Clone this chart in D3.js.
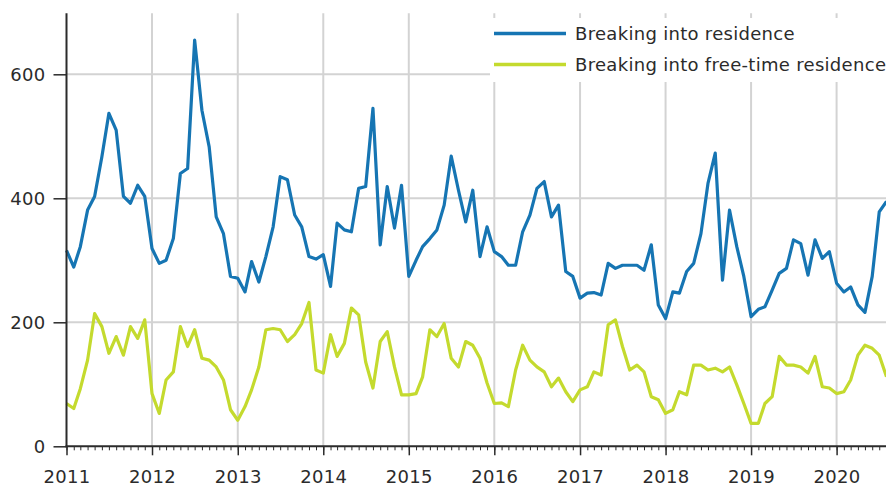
<!DOCTYPE html>
<html><head><meta charset="utf-8">
<script src="https://cdn.jsdelivr.net/npm/d3@7"></script>
<style>
html,body{margin:0;padding:0;background:#fff;}
svg{display:block;font-family:"DejaVu Sans",Verdana,sans-serif;}
</style></head>
<body><svg id="c" width="886" height="488"></svg>
<script>
const startMonth = "2011-01";
const seriesNames = ["Breaking into residence", "Breaking into free-time residence"];
const residence = [316,289,322,381,403,467,537,510,403,392,421,403,
319,295,300,335,440,448,655,542,483,370,343,274,
271,249,298,265,306,354,435,430,373,354,306,302,
309,258,360,349,346,416,419,545,325,419,352,421,
274,300,322,335,349,389,468,413,362,413,306,354,
314,306,292,292,346,373,416,427,370,389,282,274,
239,247,248,244,295,287,292,292,292,284,325,228,
206,249,247,282,295,343,424,473,268,381,322,274,
209,221,225,252,279,287,333,327,276,333,303,314,
263,249,257,228,216,274,378,395];
const freeTime = [69,61,93,139,214,193,150,177,147,193,174,204,
85,53,107,120,193,161,188,142,139,128,107,59,
42,64,91,128,188,190,188,169,180,198,232,123,
118,180,145,166,223,212,136,94,169,185,128,83,
83,85,112,188,177,198,142,128,169,163,142,102,
69,70,64,123,163,139,128,120,96,110,88,72,
91,96,120,115,196,204,161,123,131,120,80,75,
53,59,88,83,131,131,123,126,120,128,99,69,
37,37,69,80,145,131,131,128,118,145,96,94,
85,88,107,147,163,158,147,112];
const yTicks = [0,200,400,600];
const colors = ["#1675b3","#c4da2e"];

const parse = d3.timeParse("%Y-%m");
const t0 = parse(startMonth);
const months = residence.map((_, i) => d3.timeMonth.offset(t0, i));

const svg = d3.select("#c");
const x = d3.scaleTime().domain([t0, months[months.length-1]]).range([66.5, 886.5]);
const y = d3.scaleLinear().domain([0, 700]).range([446.3, 12.3]);
const textCol = "#2b2b2b";
const gridCol = "#d3d3d3";

// grid
const grid = svg.append("g");
const years = d3.timeYear.range(d3.timeYear.offset(t0,1), months[months.length-1]);
grid.selectAll("line.v").data(years).join("line")
  .attr("x1", d => x(d)).attr("x2", d => x(d))
  .attr("y1", y(700)+1).attr("y2", y(0))
  .attr("stroke", gridCol).attr("stroke-width", 2);
grid.selectAll("line.h").data(yTicks.filter(d => d > 0)).join("line")
  .attr("x1", x(t0)).attr("x2", 886)
  .attr("y1", d => y(d)).attr("y2", d => y(d))
  .attr("stroke", gridCol).attr("stroke-width", 2);

// lines
const line = d3.line().x((d, i) => x(months[i])).y(d => y(d));
[residence, freeTime].forEach((s, k) => {
  svg.append("path").datum(s).attr("d", line)
    .attr("fill", "none").attr("stroke", colors[k])
    .attr("stroke-width", 3.2).attr("stroke-linejoin", "round");
});

// y axis
const ya = svg.append("g").attr("transform", `translate(${x(t0)},0)`)
  .call(d3.axisLeft(y).tickValues(yTicks).tickSize(13).tickPadding(8));
ya.select(".domain").remove();
ya.selectAll("line").attr("stroke", textCol).attr("stroke-width", 1.5);
ya.selectAll("text").attr("font-size", 18).attr("fill", textCol)
  .attr("font-family", "DejaVu Sans").attr("letter-spacing", "0.3px");
svg.append("line").attr("x1", x(t0)).attr("x2", x(t0))
  .attr("y1", y(700)+1).attr("y2", y(0)+1)
  .attr("stroke", textCol).attr("stroke-width", 2);

// x axis minor
const xm = svg.append("g").attr("transform", `translate(0,${y(0)})`)
  .call(d3.axisBottom(x).ticks(d3.timeMonth.every(1)).tickSize(4).tickFormat(""));
xm.select(".domain").remove();
xm.selectAll("line").attr("stroke", textCol).attr("stroke-width", 1);
// x axis major
const xa = svg.append("g").attr("transform", `translate(0,${y(0)})`)
  .call(d3.axisBottom(x).ticks(d3.timeYear.every(1)).tickSize(9).tickPadding(15)
    .tickFormat(d3.timeFormat("%Y")));
xa.select(".domain").remove();
xa.selectAll("line").attr("stroke", textCol).attr("stroke-width", 1.5);
xa.selectAll("text").attr("font-size", 18).attr("fill", textCol)
  .attr("font-family", "DejaVu Sans").attr("letter-spacing", "0.3px");
svg.append("line").attr("x1", x(t0)-1).attr("x2", 886)
  .attr("y1", y(0)).attr("y2", y(0))
  .attr("stroke", textCol).attr("stroke-width", 2);

// legend
const lg = svg.append("g");
lg.append("rect").attr("x", 490).attr("y", 18).attr("width", 400).attr("height", 64).attr("fill", "#fff");
seriesNames.forEach((n, k) => {
  const yy = 33.5 + k * 31;
  lg.append("line").attr("x1", 494).attr("x2", 566).attr("y1", yy).attr("y2", yy)
    .attr("stroke", colors[k]).attr("stroke-width", 3.5);
  lg.append("text").attr("x", 575).attr("y", yy).attr("dy", "0.35em")
    .attr("font-size", 18).attr("fill", textCol).attr("letter-spacing", "0.3px").text(n);
});
</script></body></html>
